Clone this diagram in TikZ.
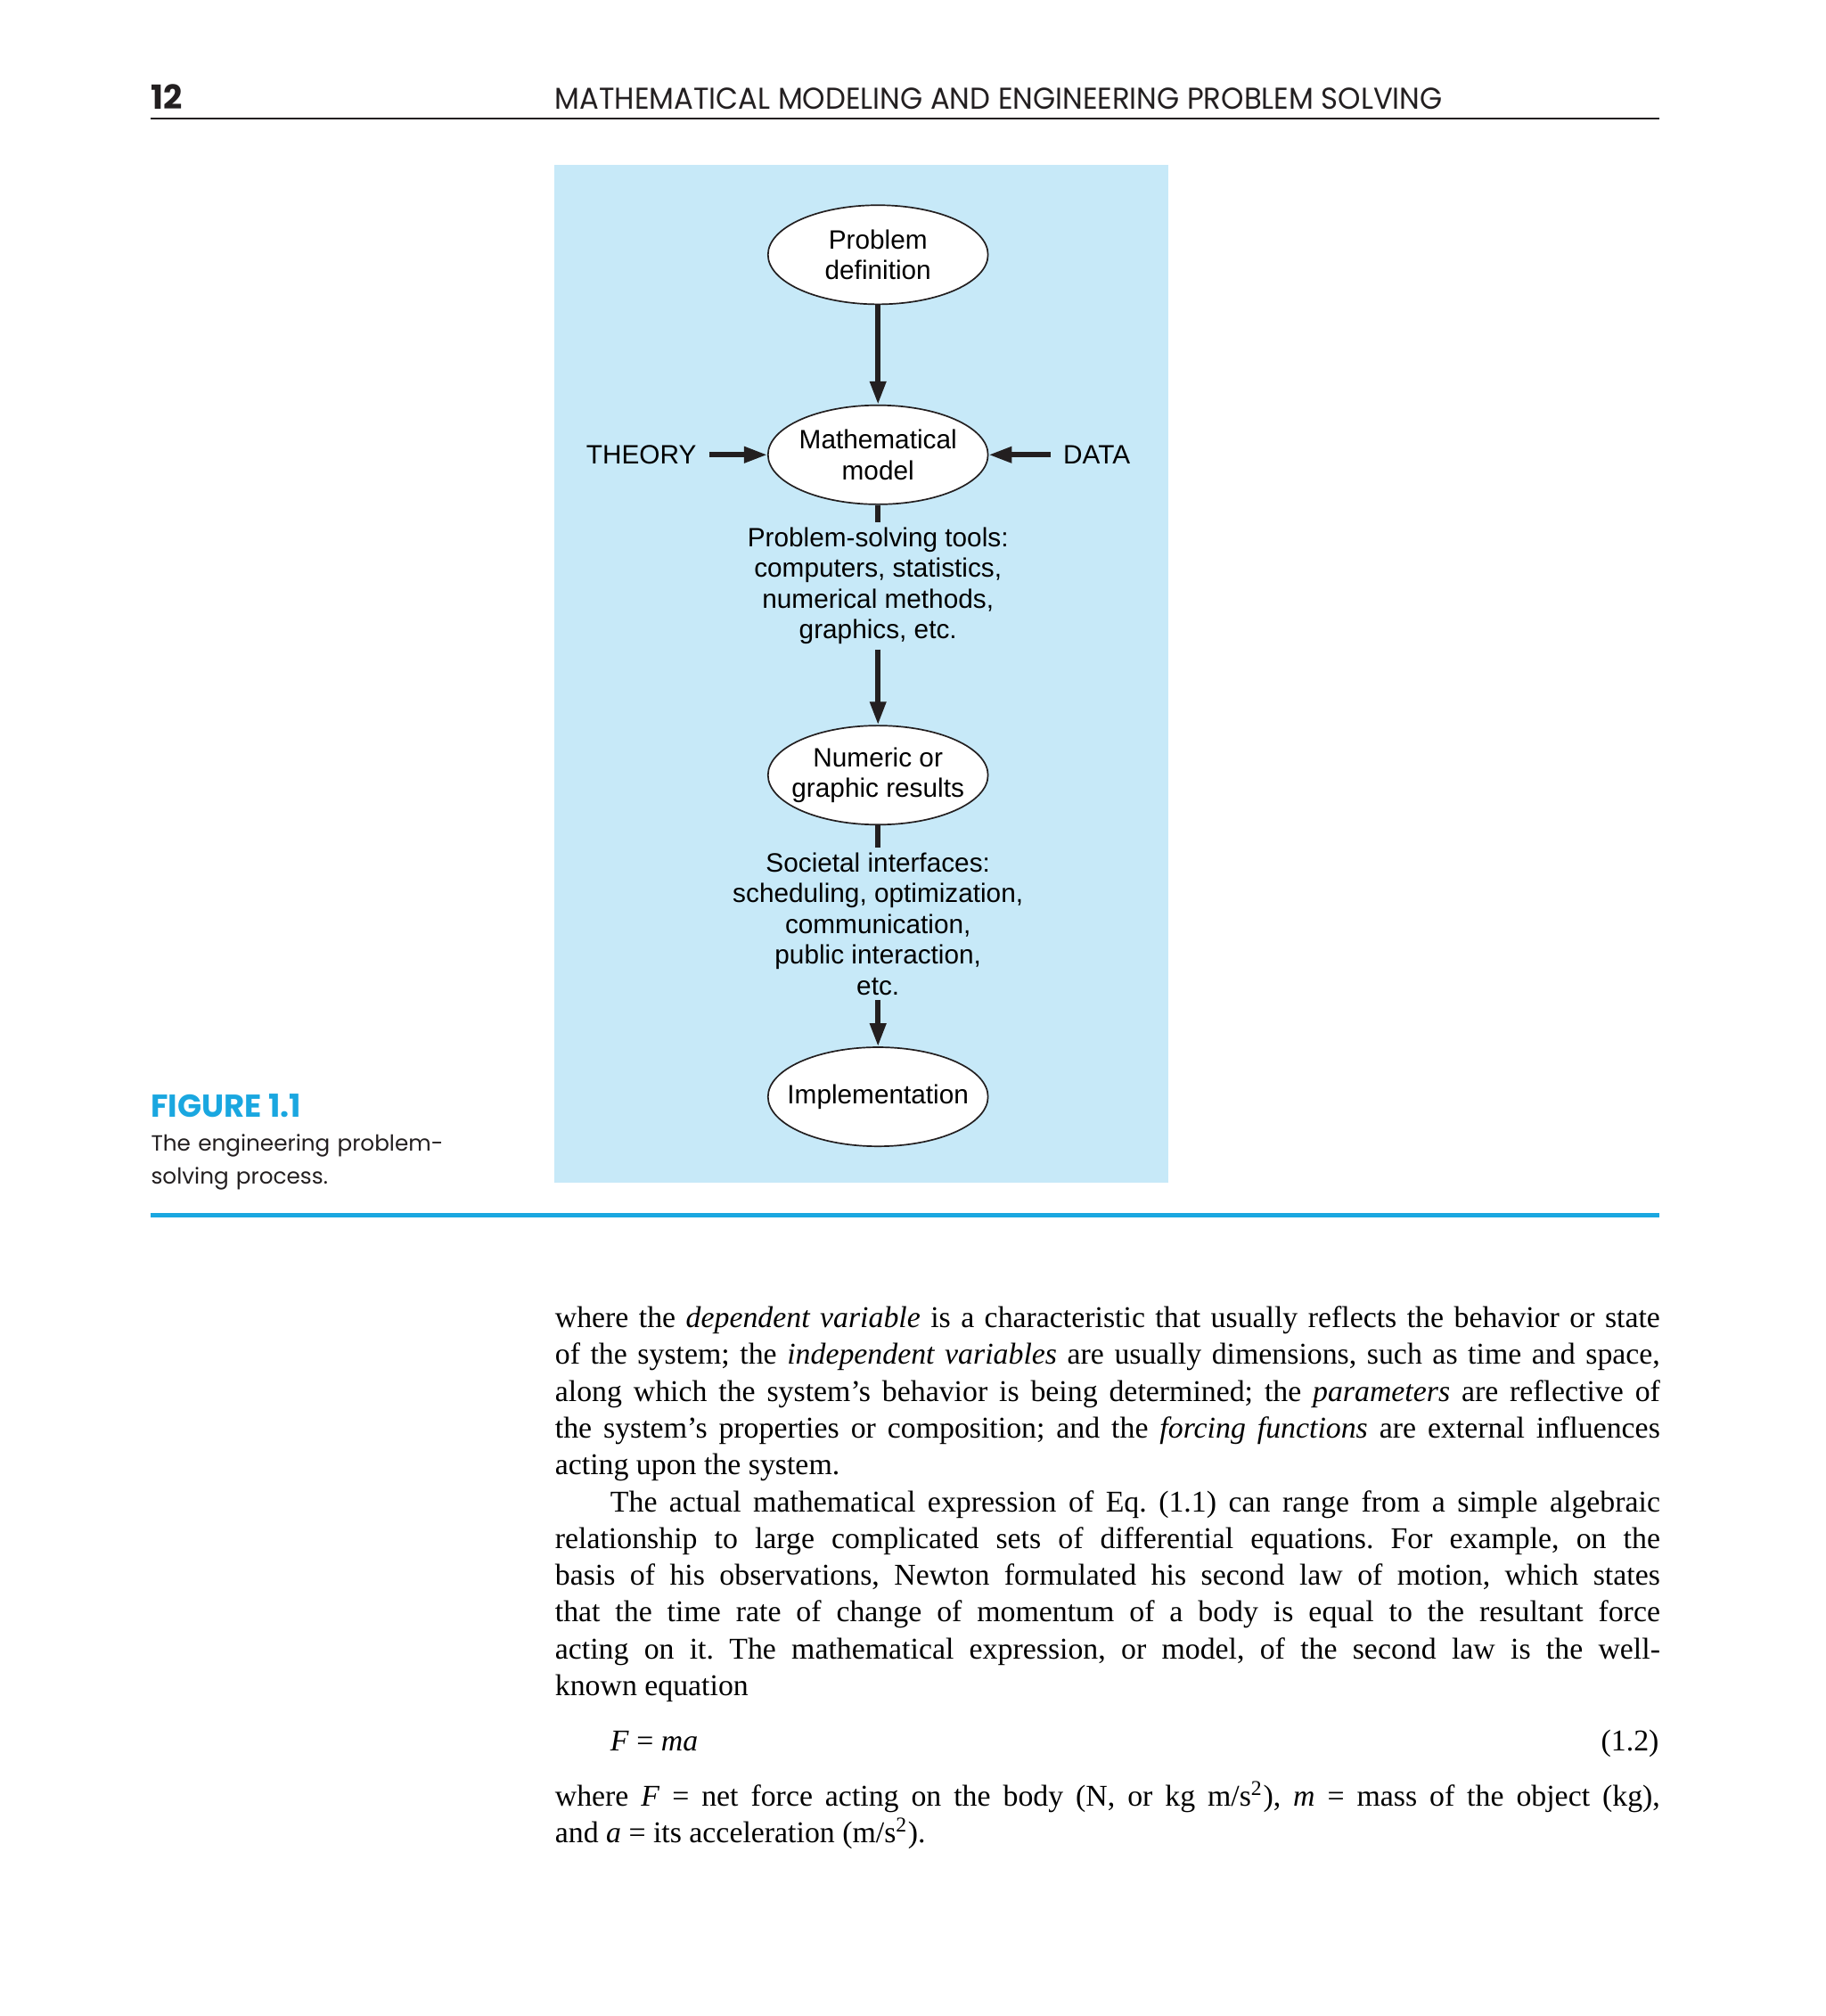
\documentclass[tikz,border=0pt]{standalone}
\usepackage{fontspec}
\setmainfont{Liberation Serif}
\newfontfamily\diagfont{Liberation Sans}
\newfontfamily\futfont{Poppins}
\newfontfamily\headfont{Poppins}[FakeStretch=0.955]
\usetikzlibrary{shapes.geometric,arrows.meta,positioning}
\frenchspacing

\definecolor{panelblue}{HTML}{C7E9F8}
\definecolor{capcyan}{HTML}{1AA7E0}
\definecolor{inkblack}{HTML}{231F20}

\tikzset{
  stage/.style={ellipse, draw=inkblack, line width=0.5pt, fill=white,
    minimum width=25.65mm, minimum height=11.55mm, inner xsep=-1.6mm, inner ysep=0pt,
    align=center, font=\diagfont\fontsize{8.8}{10.2}\selectfont},
  notes/.style={align=center, inner xsep=0pt, inner ysep=0.5mm,
    font=\diagfont\fontsize{8.8}{10.2}\selectfont},
  side/.style={inner xsep=1.4mm, inner ysep=0pt,
    font=\diagfont\fontsize{8.8}{10.2}\selectfont},
  flow/.style={draw=inkblack, line width=0.6mm,
    -{Triangle[length=2.7mm,width=1.8mm]}},
  stub/.style={draw=inkblack, line width=0.6mm},
  bodytext/.style={anchor=base west, inner sep=0pt,
    font=\fontsize{10}{12.2}\selectfont}
}

\newcommand{\fullline}[1]{\hbox to 128.85mm{#1}}

\begin{document}
\begin{tikzpicture}[x=0.15mm, y=-0.15mm]
% page
\fill[white] (0,0) rectangle (1419,1567);
\useasboundingbox (0,0) rectangle (1419,1567);

% running head
\node[anchor=base west, inner sep=0pt, text=inkblack,
  font=\futfont\bfseries\fontsize{11}{13}\selectfont] (pageno) at (117,85) {12};
\node[anchor=base west, inner sep=0pt, text=inkblack,
  font=\headfont\fontsize{10}{12}\selectfont] (head) at (431,85)
  {MATHEMATICAL MODELING AND ENGINEERING PROBLEM SOLVING};
\draw[inkblack, line width=0.5pt] (117,92) -- (1290,92);

% blue panel
\fill[panelblue] (431,128) rectangle (908,919);

% process stages
\node[stage] (pd) at (682.5,198) {Problem\\definition};
\node[stage] (mm) at (682.5,353.5) {Mathematical\\model};
\node[notes] (tools) at (682.5,455.5)
  {Problem-solving tools:\\computers, statistics,\\numerical methods,\\graphics, etc.};
\node[stage] (nr) at (682.5,602.5) {Numeric or\\graphic results};
\node[notes] (soc) at (682.5,718)
  {Societal interfaces:\\scheduling, optimization,\\communication,\\public interaction,\\etc.};
\node[stage] (impl) at (682.5,852.5) {Implementation};

% inputs
\node[side] (theory) at (498.5,353.5) {THEORY};
\node[side] (data) at (852.5,353.5) {DATA};

% arrows
\draw[flow] (pd) -- (mm);
\draw[stub] (mm) -- (tools);
\draw[flow] (tools) -- (nr);
\draw[stub] (nr) -- (soc);
\draw[flow] (soc) -- (impl);
\draw[flow] (theory) -- (mm);
\draw[flow] (data) -- (mm);

% caption
\node[anchor=base west, inner sep=0pt, text=capcyan,
  font=\futfont\bfseries\fontsize{10.5}{12}\selectfont] (figlabel) at (117,868.5) {FIGURE 1.1};
\node[anchor=base west, inner sep=0pt, text width=45mm, align=left, text=inkblack,
  font=\futfont\fontsize{7.3}{10.8}\selectfont] (figcap) at (117,895)
  {The engineering problem-\\solving process.};
\draw[capcyan, line width=0.45mm] (117,944.5) -- (1290,944.5);

% body text
\node[bodytext] (para) at (431,1032) {\vtop{%
\fullline{where the \textit{dependent variable} is a characteristic that usually reflects the behavior or state}
\fullline{of the system; the \textit{independent variables} are usually dimensions, such as time and space,}
\fullline{along which the system’s behavior is being determined; the \textit{parameters} are reflective of}
\fullline{the system’s properties or composition; and the \textit{forcing functions} are external influences}
\hbox{acting upon the system.}
\fullline{\hspace*{6.45mm}The actual mathematical expression of Eq.~(1.1) can range from a simple algebraic}
\fullline{relationship to large complicated sets of differential equations. For example, on the}
\fullline{basis of his observations, Newton formulated his second law of motion, which states}
\fullline{that the time rate of change of momentum of a body is equal to the resultant force}
\fullline{acting on it. The mathematical expression, or model, of the second law is the well-}
\hbox{known equation}}};

% equation
\node[anchor=base west, inner sep=0pt, font=\fontsize{10}{12.2}\selectfont] (eq) at (474,1361)
  {\textit{F} = \textit{ma}};
\node[anchor=base east, inner sep=0pt, font=\fontsize{10}{12.2}\selectfont] (eqno) at (1290,1361) {(1.2)};

\node[bodytext] (wherefm) at (431,1404) {\vtop{%
\fullline{where \textit{F} = net force acting on the body (N, or kg m/s\textsuperscript{2}), \textit{m} = mass of the object (kg),}
\hbox{and \textit{a} = its acceleration (m/s\textsuperscript{2}).}}};
\end{tikzpicture}
\end{document}
